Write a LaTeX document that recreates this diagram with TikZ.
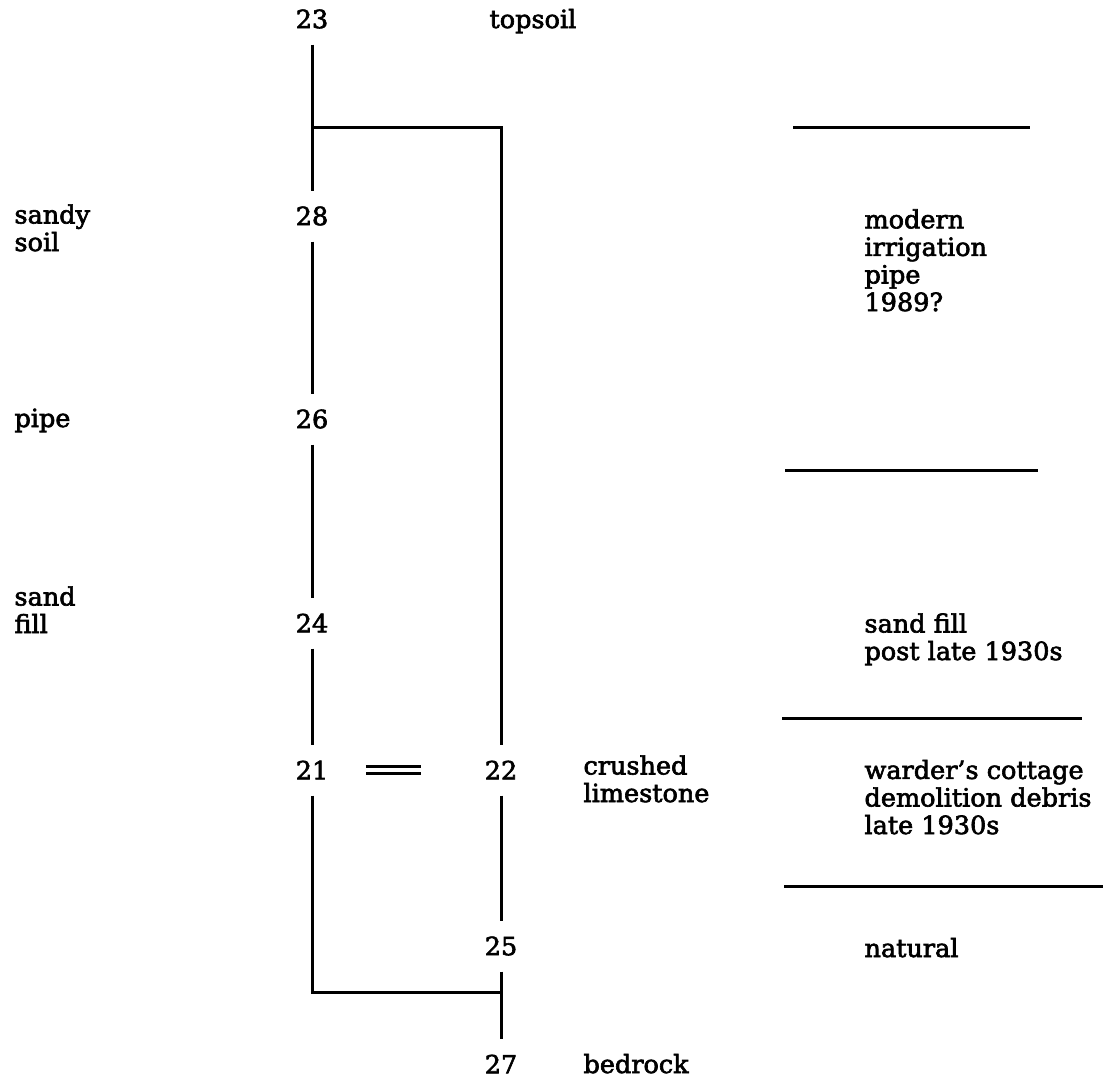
\documentclass[tikz,border=0pt]{standalone}
\usepackage{fontspec}
\setmainfont{DejaVu Serif}[FakeStretch=1.02,FakeBold=2.5]

\begin{document}
\begin{tikzpicture}[x=0.025cm,y=-0.025cm,line width=0.075cm,
  font=\fontsize{17.8pt}{19.6pt}\selectfont,
  unit/.style={inner sep=0pt,minimum height=1.2cm},
  note/.style={anchor=base west,inner sep=0pt,align=left}]
 \useasboundingbox (0,0) rectangle (1112,1081);
 % contexts
 \node[unit] (n23) at (312,19) {23};
 \node[unit] (n28) at (312,216) {28};
 \node[unit] (n26) at (312,419) {26};
 \node[unit] (n24) at (312,623) {24};
 \node[unit] (n21) at (312,770) {21};
 \node[unit] (n22) at (501,770) {22};
 \node[unit] (n25) at (501,946) {25};
 \node[unit] (n27) at (501,1064) {27};
 \coordinate (split) at (312,127);
 \coordinate (join) at (501,992);
 \draw (n23) -- (n28) -- (n26) -- (n24) -- (n21);
 \draw (split) -| (n22);
 \draw (n22) -- (n25) -- (n27);
 \draw (n21) |- (join);
 \draw[double,double distance=0.11cm,line width=0.08cm,
   shorten <=0.9cm,shorten >=1.55cm] (n21) -- (n22);
 % descriptions (base = last line)
 \node[note] (topsoil) at (488,28) {topsoil};
 \node[note] (sandysoil) at (13,251) {sandy\\soil};
 \node[note] (pipe) at (13,427) {pipe};
 \node[note] (sandfill) at (13,633) {sand\\fill};
 \node[note] (limestone) at (582,802) {crushed\\limestone};
 \node[note] (bedrock) at (582,1073) {bedrock};
 % phases
 \foreach \y/\a/\b in {127/793/1030,470/785/1038,718/782/1082,886/784/1103}
   {\draw (\a,\y) -- (\b,\y);}
 \node[note] (modern) at (863,311) {modern\\irrigation\\pipe\\1989?};
 \node[note] (postfill) at (863,660) {sand fill\\post late 1930s};
 \node[note] (debris) at (863,834) {warder's cottage\\demolition debris\\late 1930s};
 \node[note] (natural) at (863,957) {natural};
\end{tikzpicture}
\end{document}
